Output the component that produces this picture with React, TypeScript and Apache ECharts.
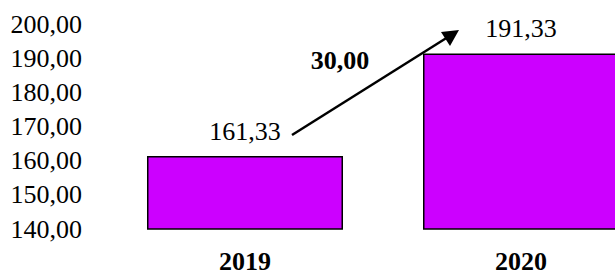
import React, { useEffect, useRef } from "react";
import * as echarts from "echarts";

const categories = ["2019", "2020"];
const values = [161.33, 191.33];
const differenceLabel = "30,00";
const yMin = 140;
const yMax = 200;
const yInterval = 10;

const FONT = "'Liberation Serif', 'Times New Roman', serif";
const fmt = (v: number) => v.toFixed(2).replace(".", ",");

export default function App() {
  const ref = useRef<HTMLDivElement>(null);
  useEffect(() => {
    if (!ref.current) return;
    const chart = echarts.init(ref.current, undefined, { renderer: "svg" });
    chart.setOption({
      animation: false,
      backgroundColor: "#ffffff",
      grid: { left: 107, right: 0, top: 24, bottom: 39, containLabel: false },
      xAxis: {
        type: "category",
        data: categories,
        axisLine: { show: false },
        axisTick: { show: false },
        axisLabel: {
          margin: 19,
          fontFamily: FONT,
          fontSize: 26,
          fontWeight: "bold",
          color: "#000",
        },
      },
      yAxis: {
        type: "value",
        min: yMin,
        max: yMax,
        interval: yInterval,
        splitLine: { show: false },
        axisLine: { show: false },
        axisTick: { show: false },
        axisLabel: {
          margin: 25,
          fontFamily: FONT,
          fontSize: 26,
          color: "#000",
          formatter: (v: number) => fmt(v),
        },
      },
      series: [
        {
          type: "bar",
          data: values,
          barWidth: 196,
          itemStyle: { color: "#CC00FF", borderColor: "#000", borderWidth: 1.5 },
          label: {
            show: true,
            position: "top",
            distance: 12,
            fontFamily: FONT,
            fontSize: 26,
            color: "#000",
            formatter: (p: any) => fmt(p.value),
          },
        },
      ],
      graphic: [
        {
          type: "line",
          shape: { x1: 292, y1: 135, x2: 448, y2: 37 },
          style: { stroke: "#000", lineWidth: 2.5 },
        },
        {
          type: "polygon",
          shape: { points: [[459, 30], [441, 32], [450, 46]] },
          style: { fill: "#000" },
        },
        {
          type: "text",
          x: 340,
          y: 60,
          style: {
            text: differenceLabel,
            fontFamily: FONT,
            fontSize: 26,
            fontWeight: "bold",
            fill: "#000",
            align: "center",
            verticalAlign: "middle",
          },
        },
      ],
    });
    return () => chart.dispose();
  }, []);
  return (
    <div
      style={{
        position: "absolute",
        left: 0,
        top: 0,
        width: 615,
        height: 274,
        overflow: "hidden",
        background: "#fff",
      }}
    >
      <div ref={ref} style={{ width: 659, height: 274 }} />
    </div>
  );
}
